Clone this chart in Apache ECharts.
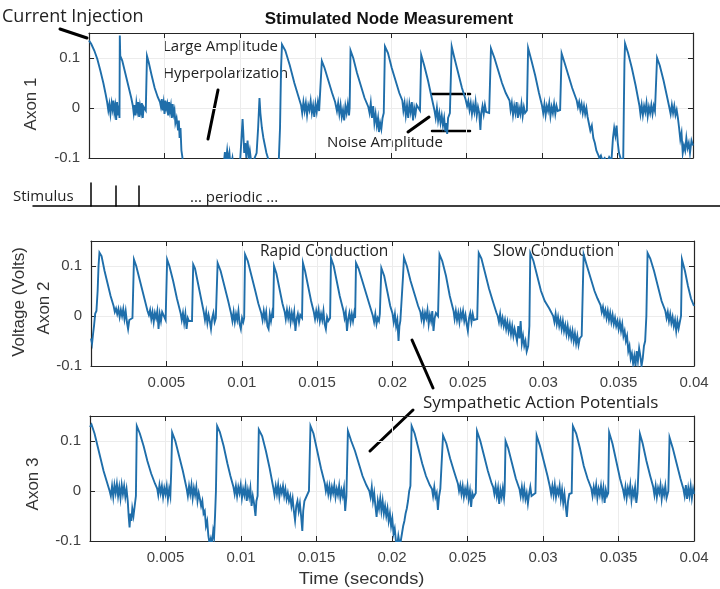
<!DOCTYPE html>
<html>
<head>
<meta charset="utf-8">
<script src="https://cdn.jsdelivr.net/npm/echarts@6/dist/echarts.min.js"></script>
<style>
html,body{margin:0;padding:0;background:#fff;}
#chart{width:720px;height:589px;}
</style>
</head>
<body>
<div id="chart"></div>
<script>
// Time in milliseconds, voltage in volts
const xTicksMs = [0, 5, 10, 15, 20, 25, 30, 35, 40];
const yTicks = [-0.1, 0, 0.1];

const axon1 = [
[0.00,0.135],[0.15,0.128],[0.35,0.115],[0.55,0.098],[0.75,0.075],[0.95,0.050],[1.10,0.028],[1.20,0.012],
[1.28,-0.005],[1.35,0.008],[1.42,-0.012],[1.50,0.010],[1.56,-0.002],[1.62,0.015],[1.68,-0.008],[1.74,0.004],[1.80,-0.024],[1.86,0.012],[1.92,-0.015],[1.98,0.005],[2.02,-0.020],
[2.04,0.145],[2.07,0.104],[2.20,0.095],[2.40,0.070],[2.60,0.045],[2.80,0.020],[2.90,0.005],
[2.96,-0.010],[3.02,0.006],[3.08,-0.015],[3.14,0.010],[3.20,-0.004],[3.26,0.012],[3.32,-0.018],[3.38,0.004],[3.44,-0.008],[3.50,0.010],[3.56,-0.020],[3.62,0.002],
[3.76,-0.005],[3.84,0.104],[3.95,0.092],[4.15,0.065],[4.35,0.040],[4.55,0.022],[4.70,0.012],
[4.76,0.003],[4.82,0.018],[4.88,-0.005],[4.94,0.010],[5.00,-0.012],[5.06,0.015],[5.12,0.000],[5.18,0.008],[5.24,-0.015],[5.30,0.012],[5.36,-0.006],[5.42,0.005],[5.48,-0.020],[5.54,0.008],[5.60,-0.012],[5.66,-0.004],[5.72,-0.030],
[5.80,-0.020],[5.90,-0.045],[5.95,-0.025],[6.00,-0.060],[6.06,-0.040],[6.12,-0.085],[6.18,-0.097],[6.24,-0.120],
[6.50,-0.150],[7.50,-0.160],[8.50,-0.140],[8.90,-0.120],[9.00,-0.088],[9.06,-0.110],[9.15,-0.085],[9.22,-0.105],[9.30,-0.090],[9.38,-0.120],[9.50,-0.100],[9.60,-0.125],
[10.00,-0.110],[10.10,-0.060],[10.17,-0.022],[10.22,-0.050],[10.28,-0.090],[10.35,-0.070],[10.42,-0.100],
[10.50,-0.065],[10.58,-0.098],[10.65,-0.085],[10.75,-0.110],[10.90,-0.105],
[11.10,-0.090],[11.20,-0.040],[11.29,0.020],[11.35,-0.010],[11.45,-0.040],[11.55,-0.060],[11.65,-0.075],[11.75,-0.090],[11.85,-0.100],[11.90,-0.120],
[12.30,-0.130],[12.55,-0.120],[12.65,-0.040],[12.72,0.080],[12.78,0.127],
[13.00,0.115],[13.30,0.085],[13.60,0.050],[13.85,0.025],[14.05,0.005],
[14.12,-0.010],[14.20,0.012],[14.28,-0.006],[14.36,0.010],[14.44,-0.014],[14.52,0.006],[14.60,-0.004],[14.68,0.014],[14.76,-0.010],[14.84,0.005],[14.92,-0.018],[15.00,0.008],[15.08,-0.008],[15.16,0.012],[15.24,-0.006],
[15.32,-0.010],[15.42,0.094],[15.60,0.080],[15.85,0.055],[16.10,0.030],[16.30,0.012],
[16.42,-0.006],[16.50,0.010],[16.58,-0.012],[16.66,0.006],[16.74,-0.018],[16.82,-0.004],[16.90,-0.025],[16.98,0.004],[17.06,-0.010],[17.14,0.008],[17.22,-0.015],
[17.26,0.000],[17.32,0.115],[17.50,0.100],[17.75,0.070],[18.00,0.045],[18.25,0.020],[18.50,0.002],
[18.58,-0.010],[18.66,0.010],[18.74,-0.020],[18.82,0.004],[18.90,-0.030],[18.98,-0.012],[19.06,-0.035],[19.14,-0.020],[19.20,-0.048],[19.28,-0.030],[19.36,-0.042],[19.44,-0.020],
[19.52,-0.010],[19.60,0.123],[19.80,0.110],[20.05,0.080],[20.30,0.055],[20.55,0.030],[20.75,0.015],
[20.82,-0.005],[20.90,0.010],[20.98,-0.015],[21.06,0.005],[21.14,-0.020],[21.22,0.008],[21.30,-0.008],[21.38,0.012],[21.46,-0.025],[21.54,0.000],[21.62,-0.012],[21.70,0.006],
[21.92,-0.005],[22.00,0.106],[22.20,0.085],[22.45,0.055],[22.70,0.020],[22.88,-0.005],
[22.96,-0.020],[23.04,0.000],[23.12,-0.025],[23.20,-0.010],[23.28,-0.030],[23.36,-0.015],[23.44,-0.035],[23.52,-0.020],[23.60,-0.047],[23.66,-0.030],[23.72,-0.052],[23.78,-0.020],
[23.90,-0.010],[24.02,0.123],[24.20,0.100],[24.45,0.070],[24.70,0.040],[24.95,0.016],
[25.04,0.004],[25.12,0.014],[25.20,-0.004],[25.28,0.010],[25.36,-0.012],[25.44,0.006],[25.52,-0.008],[25.60,0.012],[25.68,-0.015],[25.76,0.002],[25.84,-0.010],[25.92,-0.044],[25.98,-0.010],[26.06,0.004],[26.14,-0.012],[26.22,0.006],[26.30,-0.008],
[26.50,-0.010],[26.62,0.119],[26.85,0.100],[27.10,0.075],[27.35,0.050],[27.60,0.030],[27.85,0.015],
[27.92,-0.004],[28.00,0.010],[28.08,-0.014],[28.16,0.004],[28.24,-0.010],[28.32,0.012],[28.40,-0.020],[28.48,0.000],[28.56,-0.012],[28.64,0.008],[28.72,-0.016],[28.80,0.002],[28.88,-0.010],
[29.00,-0.005],[29.08,0.120],[29.30,0.095],[29.55,0.065],[29.80,0.030],[30.00,0.005],
[30.08,-0.010],[30.16,0.008],[30.24,-0.014],[30.32,0.004],[30.40,-0.006],[30.48,0.010],[30.56,-0.016],[30.64,0.002],[30.72,-0.010],[30.80,0.008],[30.88,-0.012],[30.96,0.004],[31.04,-0.006],
[31.20,-0.004],[31.30,0.109],[31.50,0.090],[31.75,0.065],[32.00,0.040],[32.30,0.015],
[32.38,0.002],[32.46,0.012],[32.54,-0.004],[32.62,0.008],[32.70,-0.010],[32.78,0.004],[32.86,-0.012],[32.94,0.000],[33.02,-0.018],
[33.10,-0.030],[33.20,-0.045],[33.30,-0.035],[33.40,-0.060],[33.50,-0.070],[33.60,-0.085],[33.70,-0.092],[33.80,-0.100],[33.90,-0.095],[34.00,-0.105],[34.15,-0.100],[34.30,-0.110],[34.45,-0.098],[34.60,-0.105],
[34.70,-0.060],[34.78,-0.040],[34.86,-0.055],[34.94,-0.035],[35.02,-0.070],[35.10,-0.090],[35.20,-0.100],[35.30,-0.105],
[35.38,-0.100],[35.42,0.000],[35.46,0.090],[35.50,0.129],[35.70,0.110],[35.95,0.080],[36.20,0.045],[36.45,0.005],
[36.52,-0.012],[36.60,0.006],[36.68,-0.014],[36.76,0.004],[36.84,-0.008],[36.92,0.010],[37.00,-0.016],[37.08,0.002],[37.16,-0.010],[37.24,0.006],[37.32,-0.012],[37.40,0.004],[37.48,-0.006],
[37.55,-0.004],[37.62,0.100],[37.80,0.085],[38.05,0.055],[38.30,0.020],[38.44,0.000],
[38.52,-0.012],[38.60,0.006],[38.68,-0.010],[38.76,0.004],[38.84,-0.014],[38.92,-0.004],[39.00,-0.020],
[39.08,-0.040],[39.16,-0.063],[39.24,-0.050],[39.32,-0.090],[39.40,-0.075],[39.48,-0.085],[39.56,-0.060],[39.64,-0.080],[39.72,-0.070],[39.80,-0.090],[39.90,-0.065],[40.00,-0.075]
];

const axon2 = [
[0.00,-0.045],[0.07,-0.055],[0.14,-0.035],[0.20,-0.020],[0.28,0.005],[0.36,0.010],[0.44,0.050],[0.50,0.100],[0.56,0.127],
[0.70,0.120],[0.90,0.090],[1.10,0.065],[1.30,0.040],[1.50,0.020],
[1.58,0.008],[1.66,0.015],[1.74,0.004],[1.82,0.014],[1.90,-0.002],[1.98,0.012],[2.06,0.000],[2.14,0.014],[2.22,-0.006],[2.30,0.010],[2.38,-0.012],[2.46,-0.026],[2.54,-0.008],
[2.75,-0.004],[2.85,0.113],[3.00,0.100],[3.25,0.070],[3.50,0.040],[3.75,0.010],
[3.84,0.002],[3.92,0.012],[4.00,-0.006],[4.08,0.008],[4.16,-0.012],[4.24,0.006],[4.32,-0.004],[4.40,0.010],[4.48,-0.026],[4.56,0.004],[4.64,-0.010],[4.72,0.008],
[4.95,-0.008],[5.05,0.113],[5.20,0.100],[5.45,0.070],[5.70,0.035],[5.95,0.005],
[6.02,-0.008],[6.10,0.006],[6.18,-0.014],[6.26,0.004],[6.34,-0.026],[6.42,-0.004],[6.50,-0.010],
[6.70,-0.010],[6.78,0.103],[6.90,0.095],[7.10,0.065],[7.30,0.035],[7.48,0.008],
[7.56,-0.008],[7.64,0.008],[7.72,-0.014],[7.80,0.002],[7.88,-0.010],[7.96,-0.026],[8.04,-0.004],[8.12,0.006],[8.20,-0.012],[8.28,-0.004],
[8.32,0.000],[8.40,0.106],[8.60,0.090],[8.85,0.060],[9.10,0.030],[9.30,0.004],
[9.38,-0.010],[9.46,0.008],[9.54,-0.012],[9.62,0.004],[9.70,-0.008],[9.78,0.010],[9.86,-0.016],[9.94,-0.026],[10.02,-0.004],[10.10,-0.012],
[10.16,-0.004],[10.22,0.123],[10.40,0.110],[10.65,0.080],[10.90,0.050],[11.10,0.025],[11.30,0.005],
[11.38,-0.008],[11.46,0.010],[11.54,-0.006],[11.62,0.008],[11.70,-0.020],[11.78,-0.026],[11.86,0.004],[11.94,-0.010],[12.02,0.006],
[12.08,-0.004],[12.14,0.100],[12.30,0.085],[12.50,0.055],[12.70,0.025],[12.85,0.008],
[12.92,-0.006],[13.00,0.012],[13.08,-0.004],[13.16,0.010],[13.24,-0.012],[13.32,0.006],[13.40,-0.008],[13.48,0.008],[13.56,-0.030],[13.64,-0.006],[13.72,0.004],[13.80,-0.012],[13.88,0.002],
[14.00,-0.004],[14.06,0.106],[14.20,0.090],[14.40,0.060],[14.60,0.030],[14.78,0.008],
[14.86,-0.006],[14.94,0.010],[15.02,-0.004],[15.10,0.012],[15.18,-0.010],[15.26,0.004],[15.34,-0.008],[15.42,0.010],[15.50,-0.016],[15.58,-0.026],[15.66,-0.002],[15.74,-0.010],
[15.86,-0.004],[15.92,0.116],[16.10,0.100],[16.30,0.070],[16.50,0.040],[16.75,0.010],
[16.82,-0.004],[16.90,0.008],[16.98,-0.030],[17.06,-0.006],[17.14,0.006],[17.22,-0.012],[17.30,0.004],[17.38,-0.010],[17.46,0.006],
[17.52,-0.004],[17.58,0.106],[17.75,0.095],[18.00,0.070],[18.25,0.045],[18.50,0.020],[18.70,0.000],
[18.78,-0.012],[18.86,0.004],[18.94,-0.016],[19.02,-0.004],[19.10,-0.010],[19.16,0.004],
[19.20,0.000],[19.26,0.096],[19.45,0.080],[19.65,0.050],[19.85,0.020],[20.00,0.005],
[20.08,-0.012],[20.16,0.004],[20.24,-0.020],[20.32,-0.008],[20.40,-0.050],[20.46,-0.020],[20.52,-0.010],
[20.60,-0.006],[20.70,0.080],[20.76,0.117],[20.95,0.100],[21.20,0.070],[21.45,0.045],[21.70,0.020],[21.85,0.008],
[21.92,-0.006],[22.00,0.008],[22.08,-0.012],[22.16,0.006],[22.24,-0.004],[22.32,0.012],[22.40,-0.016],[22.48,0.002],[22.56,-0.010],[22.64,0.010],[22.72,-0.030],[22.80,-0.004],[22.88,0.006],
[23.02,0.000],[23.12,0.123],[23.30,0.110],[23.55,0.080],[23.80,0.040],[24.05,0.010],
[24.12,-0.006],[24.20,0.010],[24.28,-0.008],[24.36,0.006],[24.44,-0.012],[24.52,0.008],[24.60,-0.004],[24.68,0.010],[24.76,-0.010],[24.84,0.002],[24.92,-0.016],[25.00,-0.030],[25.08,-0.004],[25.16,0.006],[25.24,-0.012],[25.32,0.004],[25.40,-0.008],
[25.62,-0.006],[25.72,0.126],[25.90,0.115],[26.15,0.085],[26.40,0.055],[26.65,0.030],[26.90,0.006],
[26.98,0.000],[27.06,-0.012],[27.14,0.004],[27.22,-0.016],[27.30,-0.004],[27.38,-0.020],[27.46,-0.008],[27.54,-0.026],[27.62,-0.012],[27.70,-0.030],[27.78,-0.016],[27.86,-0.036],[27.94,-0.020],[28.02,-0.040],[28.10,-0.026],[28.18,-0.030],[28.26,-0.050],[28.34,-0.020],[28.42,-0.045],[28.50,-0.010],[28.58,-0.055],[28.66,-0.040],[28.74,-0.060],[28.82,-0.050],[28.90,-0.071],
[29.00,-0.060],[29.08,-0.020],[29.14,0.126],[29.35,0.110],[29.60,0.080],[29.85,0.050],[30.10,0.030],[30.40,0.015],[30.66,0.000],
[30.74,-0.012],[30.82,0.004],[30.90,-0.016],[30.98,-0.002],[31.06,-0.020],[31.14,-0.008],[31.22,-0.026],[31.30,-0.010],[31.38,-0.030],[31.46,-0.018],[31.54,-0.036],[31.62,-0.020],[31.70,-0.040],[31.78,-0.028],[31.86,-0.045],[31.94,-0.030],[32.02,-0.050],[32.10,-0.035],[32.18,-0.055],[32.26,-0.040],[32.34,-0.058],[32.42,-0.045],
[32.55,-0.040],[32.62,0.050],[32.68,0.123],[32.90,0.100],[33.15,0.075],[33.40,0.050],[33.60,0.035],[33.80,0.022],
[33.88,0.008],[33.96,0.018],[34.04,0.002],[34.12,0.012],[34.20,-0.004],[34.28,0.010],[34.36,-0.008],[34.44,0.006],[34.52,-0.012],[34.60,0.002],[34.68,-0.016],[34.76,-0.004],[34.84,-0.020],[34.92,-0.010],[35.00,-0.026],[35.08,-0.012],[35.16,-0.030],[35.24,-0.016],
[35.32,-0.040],[35.40,-0.030],[35.48,-0.050],[35.56,-0.040],[35.64,-0.070],[35.72,-0.060],[35.80,-0.085],[35.88,-0.075],[35.96,-0.095],[36.04,-0.080],[36.12,-0.100],[36.20,-0.070],[36.28,-0.090],[36.36,-0.065],[36.44,-0.080],[36.52,-0.100],[36.60,-0.085],[36.68,-0.060],
[36.76,-0.050],[36.84,0.000],[36.92,0.126],[37.10,0.115],[37.35,0.090],[37.60,0.060],[37.85,0.030],[38.10,0.010],
[38.18,-0.004],[38.26,0.008],[38.34,-0.010],[38.42,0.004],[38.50,-0.014],[38.58,-0.002],[38.66,-0.020],[38.74,-0.008],[38.82,-0.030],[38.90,-0.010],[38.98,-0.025],[39.06,-0.012],[39.14,0.000],
[39.20,0.113],[39.40,0.090],[39.60,0.060],[39.80,0.035],[40.00,0.020]
];

const axon3 = [
[0.00,0.128],[0.10,0.133],[0.30,0.115],[0.50,0.090],[0.70,0.065],[0.90,0.040],[1.10,0.020],[1.30,0.000],
[1.38,-0.010],[1.46,0.010],[1.54,-0.012],[1.62,0.012],[1.70,-0.004],[1.78,0.014],[1.86,-0.010],[1.94,0.008],[2.02,-0.014],[2.10,0.012],[2.18,-0.006],[2.26,0.010],[2.34,-0.012],[2.42,0.004],
[2.50,-0.020],[2.56,-0.050],[2.62,-0.073],[2.68,-0.045],[2.74,-0.060],[2.80,-0.035],[2.88,-0.050],[2.96,-0.030],
[3.04,-0.010],[3.10,0.130],[3.30,0.115],[3.55,0.090],[3.80,0.060],[4.05,0.035],[4.30,0.015],[4.45,0.005],
[4.52,-0.008],[4.60,0.012],[4.68,-0.004],[4.76,0.010],[4.84,-0.012],[4.92,0.006],[5.00,-0.006],[5.08,0.010],[5.16,-0.016],[5.24,0.004],
[5.32,-0.010],[5.38,0.040],[5.44,0.117],[5.65,0.100],[5.90,0.070],[6.15,0.040],[6.40,0.005],
[6.48,-0.010],[6.56,0.010],[6.64,-0.006],[6.72,0.012],[6.80,-0.014],[6.88,0.006],[6.96,-0.008],[7.04,0.008],[7.12,-0.020],[7.20,-0.004],[7.28,-0.016],
[7.36,-0.030],[7.44,-0.020],[7.52,-0.045],[7.60,-0.040],[7.68,-0.070],[7.76,-0.060],[7.84,-0.090],[7.92,-0.105],[8.00,-0.095],[8.08,-0.110],[8.16,-0.080],[8.22,-0.090],
[8.28,-0.050],[8.34,0.000],[8.42,0.130],[8.60,0.118],[8.85,0.090],[9.10,0.055],[9.30,0.030],[9.50,0.008],
[9.58,-0.006],[9.66,0.010],[9.74,-0.010],[9.82,0.008],[9.90,-0.004],[9.98,0.012],[10.06,-0.014],[10.14,0.004],[10.22,-0.008],[10.30,0.010],[10.38,-0.020],[10.46,0.002],[10.54,-0.012],[10.62,0.006],[10.70,-0.030],[10.78,-0.010],[10.86,-0.024],[10.96,-0.050],[11.02,-0.020],
[11.10,-0.010],[11.18,0.123],[11.40,0.110],[11.65,0.080],[11.90,0.045],[12.15,0.005],
[12.22,-0.008],[12.30,0.010],[12.38,-0.006],[12.46,0.012],[12.54,-0.012],[12.62,0.006],[12.70,-0.004],[12.78,0.010],[12.86,-0.010],[12.94,0.004],[13.02,-0.016],[13.10,-0.004],[13.18,-0.020],[13.26,-0.010],[13.34,-0.030],[13.42,-0.015],[13.50,-0.040],[13.58,-0.059],[13.66,-0.030],[13.74,-0.020],[13.82,-0.040],[13.90,-0.025],[13.98,-0.050],[14.06,-0.080],[14.12,-0.040],[14.20,-0.020],
[14.35,-0.010],[14.50,0.000],[14.60,0.130],[14.80,0.115],[15.05,0.080],[15.30,0.045],[15.55,0.015],
[15.62,0.000],[15.70,0.012],[15.78,-0.006],[15.86,0.010],[15.94,-0.010],[16.02,0.008],[16.10,-0.004],[16.18,0.012],[16.26,-0.012],[16.34,0.004],[16.42,-0.008],[16.50,0.010],[16.58,-0.014],[16.66,0.002],[16.74,-0.010],[16.82,0.006],[16.90,-0.040],
[16.98,-0.010],[17.08,0.120],[17.30,0.100],[17.55,0.080],[17.80,0.055],[18.05,0.030],[18.30,0.012],[18.50,0.000],
[18.58,-0.012],[18.66,0.008],[18.74,-0.020],[18.82,-0.004],[18.90,-0.030],[18.98,-0.052],[19.06,-0.020],[19.14,-0.035],[19.22,-0.015],[19.30,-0.040],[19.38,-0.020],[19.46,-0.045],[19.54,-0.030],[19.62,-0.050],[19.70,-0.035],[19.78,-0.060],[19.86,-0.045],[19.94,-0.070],[20.02,-0.055],[20.10,-0.085],[20.18,-0.075],[20.26,-0.100],[20.34,-0.110],[20.42,-0.090],[20.50,-0.105],[20.58,-0.100],[20.66,-0.085],[20.74,-0.070],[20.82,-0.060],[20.90,-0.045],[20.98,-0.035],[21.06,-0.020],[21.14,0.000],
[21.22,0.010],[21.30,0.130],[21.50,0.115],[21.75,0.085],[22.00,0.055],[22.25,0.030],[22.50,0.012],[22.65,0.004],
[22.72,-0.010],[22.80,0.008],[22.88,-0.012],[22.96,-0.004],[23.04,-0.038],[23.12,-0.010],[23.20,0.004],
[23.30,0.000],[23.38,0.111],[23.60,0.095],[23.85,0.065],[24.10,0.040],[24.37,0.014],
[24.44,0.000],[24.52,0.012],[24.60,-0.006],[24.68,0.010],[24.76,-0.012],[24.84,0.004],[24.92,-0.008],[25.00,0.010],[25.08,-0.016],[25.16,0.000],[25.24,-0.032],[25.32,-0.004],[25.40,-0.012],
[25.55,-0.004],[25.63,0.120],[25.85,0.100],[26.10,0.070],[26.35,0.040],[26.60,0.015],[26.70,0.008],
[26.78,-0.006],[26.86,0.010],[26.94,-0.010],[27.02,0.006],[27.10,-0.026],[27.18,0.002],[27.26,-0.012],[27.34,0.006],[27.42,-0.014],
[27.46,0.000],[27.52,0.100],[27.70,0.085],[27.95,0.055],[28.20,0.025],[28.45,0.003],
[28.52,-0.010],[28.60,0.008],[28.68,-0.012],[28.76,0.006],[28.84,-0.016],[28.92,-0.004],[29.00,-0.025],[29.08,-0.006],[29.16,0.008],[29.24,-0.010],
[29.50,-0.004],[29.58,0.111],[29.80,0.090],[30.05,0.060],[30.30,0.030],[30.46,0.008],
[30.54,-0.006],[30.62,0.010],[30.70,-0.008],[30.78,0.012],[30.86,-0.012],[30.94,0.004],[31.02,-0.006],[31.10,0.010],[31.18,-0.016],[31.26,0.002],[31.34,-0.024],[31.42,-0.006],[31.50,-0.030],[31.58,-0.052],[31.66,-0.020],[31.74,-0.006],
[31.90,-0.004],[31.98,0.130],[32.20,0.115],[32.45,0.085],[32.70,0.050],[32.95,0.025],[33.20,0.005],
[33.28,-0.010],[33.36,0.008],[33.44,-0.006],[33.52,0.012],[33.60,-0.014],[33.68,0.004],[33.76,-0.008],[33.84,0.010],[33.92,-0.012],[34.00,0.006],[34.08,-0.024],[34.16,0.002],[34.24,-0.010],
[34.32,-0.004],[34.38,0.117],[34.60,0.095],[34.85,0.060],[35.10,0.025],[35.30,0.003],
[35.38,-0.010],[35.46,0.008],[35.54,-0.014],[35.62,0.006],[35.70,-0.006],[35.78,0.012],[35.86,-0.018],[35.94,0.002],[36.02,-0.010],[36.10,0.008],[36.18,-0.024],[36.26,-0.004],
[36.36,0.000],[36.42,0.114],[36.60,0.095],[36.85,0.060],[37.10,0.030],[37.30,0.008],
[37.38,-0.008],[37.46,0.010],[37.54,-0.012],[37.62,0.006],[37.70,-0.004],[37.78,0.012],[37.86,-0.016],[37.94,0.004],[38.02,-0.008],[38.10,0.010],[38.18,-0.014],
[38.30,0.000],[38.38,0.107],[38.60,0.085],[38.85,0.055],[39.10,0.025],[39.30,0.004],
[39.38,-0.010],[39.46,0.012],[39.54,-0.016],[39.62,0.006],[39.70,-0.010],[39.78,0.010],[39.86,-0.014],[39.94,0.004],[40.00,-0.006]
];

const traces = [axon1, axon2, axon3];
const axonNames = ['Axon 1', 'Axon 2', 'Axon 3'];

const chart = echarts.init(document.getElementById('chart'), null, {renderer: 'canvas'});

const tickFont = '"Liberation Sans", Arial, sans-serif';
const annoFont = '"Open Sans", "Noto Sans", sans-serif';
const axisColor = '#262626';
const labelColor = '#404040';
const lineColor = '#1f6eaa';

const grids = [
  {left: 89, top: 33, width: 604, height: 125},
  {left: 91, top: 241, width: 603, height: 125},
  {left: 90, top: 416, width: 604, height: 125}
];
const showXLabels = [false, true, true];

const xAxes = [], yAxes = [], series = [];
grids.forEach((g, i) => {
  const common = {
    gridIndex: i, type: 'value',
    min: xTicksMs[0], max: xTicksMs[xTicksMs.length - 1], interval: xTicksMs[1] - xTicksMs[0],
    axisLine: {show: true, onZero: false, lineStyle: {color: axisColor, width: 1.2}},
    axisTick: {show: true, inside: true, length: 5, lineStyle: {color: axisColor}}
  };
  xAxes.push(Object.assign({}, common, {
    position: 'bottom',
    axisLabel: {
      show: showXLabels[i], color: labelColor, fontSize: 15, fontFamily: tickFont, margin: 9,
      showMinLabel: false,
      formatter: v => v === 0 ? '' : String(v / 1000)
    },
    splitLine: {show: true, lineStyle: {color: '#ececec', width: 1}}
  }));
  xAxes.push(Object.assign({}, common, {
    position: 'top', axisLabel: {show: false}, splitLine: {show: false}
  }));
  const ycommon = {
    gridIndex: i, type: 'value', min: yTicks[0], max: 0.15, interval: yTicks[1] - yTicks[0],
    axisLine: {show: true, onZero: false, lineStyle: {color: axisColor, width: 1.2}},
    axisTick: {show: true, inside: true, length: 5, lineStyle: {color: axisColor}}
  };
  yAxes.push(Object.assign({}, ycommon, {
    position: 'left',
    axisLabel: {
      show: true, color: labelColor, fontSize: 15, fontFamily: tickFont, margin: 9,
      showMaxLabel: false,
      formatter: v => { const r = Math.round(v * 10) / 10; return r === 0 ? '0' : String(r); }
    },
    splitLine: {show: true, lineStyle: {color: '#ececec', width: 1}}
  }));
  yAxes.push(Object.assign({}, ycommon, {
    position: 'right', axisLabel: {show: false}, splitLine: {show: false}
  }));
  series.push({
    type: 'line', xAxisIndex: i * 2, yAxisIndex: i * 2,
    data: traces[i], showSymbol: false, symbol: 'none', clip: true,
    sampling: null, animation: false,
    lineStyle: {color: lineColor, width: 1.9, join: 'miter'}
  });
});

function txt(x, y, text, size, opts) {
  return Object.assign({
    type: 'text', x: x, y: y, silent: true,
    style: Object.assign({text: text, fontSize: size, fontFamily: annoFont, fill: '#222',
      align: 'left', verticalAlign: 'middle'}, (opts && opts.style) || {})
  }, (opts && opts.el) || {});
}
function vtxt(x, y, text, size) {
  return {type: 'text', x: x, y: y, rotation: Math.PI / 2, silent: true,
    style: {text: text, fontSize: size, fontFamily: tickFont, fill: '#333', align: 'center', verticalAlign: 'middle'}};
}
function seg(x1, y1, x2, y2, w) {
  return {type: 'line', silent: true, shape: {x1, y1, x2, y2},
    style: {stroke: '#000', lineWidth: w, lineCap: 'round'}};
}

const graphics = [
  // title
  txt(389, 19, 'Stimulated Node Measurement', 17, {style: {fontFamily: tickFont, fontWeight: 'bold', fill: '#111', align: 'center'}}),
  // axis-side labels
  vtxt(31, 104, axonNames[0], 17),
  vtxt(44, 308, axonNames[1], 17),
  vtxt(19, 302, 'Voltage (Volts)', 17),
  vtxt(33, 484, axonNames[2], 17),
  txt(393, 579, 'Time (seconds)', 17, {style: {fontFamily: tickFont, fill: '#333', align: 'center'}, el: {scaleX: 1.08, originX: 393}}),
  // annotations panel 1
  txt(2, 17, 'Current Injection', 18),
  seg(60, 29, 87, 38, 3),
  txt(163, 47, 'Large Amplitude', 15),
  txt(163, 74, 'Hyperpolarization', 15),
  seg(218, 90, 208, 139, 3),
  txt(327, 143, 'Noise Amplitude', 15),
  seg(408, 132, 429, 117, 3),
  seg(432, 94, 470, 94, 2.5),
  seg(432, 131, 470, 131, 2.5),
  // stimulus row
  txt(13, 197, 'Stimulus', 15),
  seg(33, 206, 720, 206, 1.5),
  seg(91, 183, 91, 206, 1.5),
  seg(116, 186, 116, 206, 1.5),
  seg(139, 186, 139, 206, 1.5),
  txt(190, 198, '... periodic ...', 15),
  // panel 2 annotations
  txt(260, 252, 'Rapid Conduction', 15.5),
  txt(493, 252, 'Slow Conduction', 15.5),
  txt(423, 403, 'Sympathetic Action Potentials', 17),
  seg(412, 340, 433, 388, 3),
  seg(370, 451, 413, 410, 3)
];

chart.setOption({
  animation: false,
  backgroundColor: '#ffffff',
  grid: grids,
  xAxis: xAxes,
  yAxis: yAxes,
  series: series,
  graphic: graphics
});
</script>
</body>
</html>
